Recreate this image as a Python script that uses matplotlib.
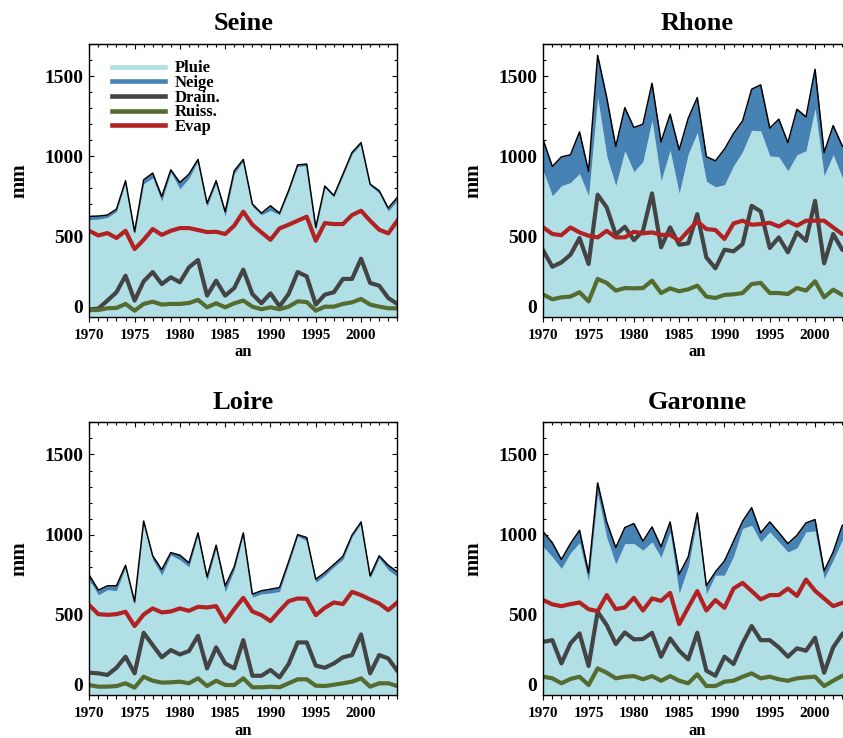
import matplotlib
matplotlib.use("Agg")
import matplotlib.pyplot as plt
import numpy as np
from matplotlib.lines import Line2D
from matplotlib.ticker import MultipleLocator

plt.rcParams['font.family'] = ['Liberation Serif', 'DejaVu Serif']
plt.rcParams['font.weight'] = 'bold'

# années 1970-2004
years = np.arange(1970, 2005)

# Seine (mm)
seine_pluie = [605, 607, 618, 655, 837, 514, 828, 865, 719, 900, 796, 863, 970, 686, 832, 624, 889, 970,
               687, 635, 661, 635, 775, 936, 941, 541, 804, 745, 878, 1013, 1075, 816, 770, 657, 723]
seine_neige = [20, 20, 15, 15, 10, 15, 25, 30, 30, 15, 40, 25, 10, 20, 15, 30, 20, 10,
               15, 10, 30, 10, 10, 10, 10, 15, 10, 10, 10, 10, 10, 10, 15, 20, 20]
seine_drain = [45, 50, 100, 152, 255, 100, 220, 278, 203, 245, 214, 307, 353, 131, 224, 131, 178, 293,
               141, 83, 145, 64, 141, 278, 251, 75, 137, 152, 235, 235, 361, 210, 193, 116, 79]
seine_ruiss = [41, 41, 52, 54, 79, 37, 79, 93, 75, 79, 79, 85, 104, 58, 83, 58, 83, 100,
               62, 46, 58, 46, 62, 95, 91, 37, 62, 62, 79, 89, 110, 75, 62, 52, 52]
seine_evap = [535, 506, 521, 490, 535, 421, 479, 546, 510, 535, 552, 552, 540, 527, 529, 515, 567, 654,
              573, 525, 479, 550, 573, 598, 623, 473, 583, 577, 577, 633, 660, 598, 542, 519, 598]

# Rhone (mm)
rhone_pluie = [909, 753, 816, 836, 892, 753, 1366, 1002, 816, 1034, 903, 967, 1225, 847, 1038, 768, 1013, 1148,
               843, 809, 822, 940, 1029, 1162, 1158, 1002, 996, 909, 1009, 1034, 1297, 878, 1009, 868, 830]
rhone_neige = [191, 183, 180, 173, 260, 152, 263, 364, 245, 269, 276, 233, 230, 243, 224, 272, 224, 218,
               155, 162, 222, 202, 191, 256, 287, 173, 235, 176, 284, 211, 245, 145, 182, 197, 190]
rhone_drain = [411, 311, 338, 386, 490, 328, 760, 681, 511, 560, 477, 535, 768, 432, 556, 448, 457, 639,
               369, 301, 417, 407, 452, 691, 656, 428, 494, 401, 525, 473, 722, 332, 515, 417, 400]
rhone_ruiss = [137, 108, 120, 125, 152, 95, 235, 210, 162, 178, 176, 178, 224, 147, 176, 158, 170, 193,
               125, 116, 135, 139, 147, 203, 210, 147, 147, 141, 178, 162, 220, 120, 168, 135, 125]
rhone_evap = [556, 515, 508, 556, 525, 504, 494, 535, 494, 494, 529, 519, 525, 510, 510, 473, 535, 594,
              546, 540, 484, 581, 598, 573, 577, 585, 562, 594, 567, 598, 598, 598, 556, 515, 510]

# Loire (mm)
loire_pluie = [717, 624, 656, 651, 794, 566, 1075, 843, 747, 873, 842, 799, 1001, 712, 914, 641, 779, 1001,
               609, 630, 635, 645, 815, 990, 962, 702, 744, 799, 845, 986, 1069, 728, 853, 779, 738]
loire_neige = [30, 30, 25, 30, 15, 15, 10, 25, 35, 15, 30, 25, 10, 25, 20, 40, 20, 10,
               20, 20, 25, 25, 15, 10, 20, 20, 20, 15, 20, 10, 10, 15, 15, 30, 30]
loire_drain = [139, 135, 125, 170, 239, 135, 388, 311, 235, 280, 253, 274, 369, 166, 297, 197, 166, 342,
               120, 120, 156, 110, 193, 328, 328, 183, 170, 197, 235, 249, 378, 135, 249, 228, 151]
loire_ruiss = [62, 52, 52, 56, 73, 46, 114, 89, 77, 79, 83, 73, 104, 56, 89, 62, 62, 104,
               48, 48, 52, 48, 73, 98, 98, 58, 56, 64, 73, 83, 104, 52, 73, 73, 56]
loire_evap = [560, 504, 500, 504, 519, 430, 502, 540, 515, 521, 540, 525, 550, 546, 554, 457, 535, 606,
              521, 498, 461, 525, 585, 602, 600, 498, 544, 577, 567, 643, 623, 596, 571, 529, 577]

# Garonne (mm)
garonne_pluie = [924, 861, 789, 886, 949, 706, 1252, 982, 816, 944, 944, 903, 955, 857, 1017, 633, 799, 1100,
                 629, 747, 747, 865, 1038, 1058, 955, 1017, 955, 892, 917, 1017, 1023, 726, 841, 965, 990]
garonne_neige = [93, 88, 56, 58, 78, 56, 70, 97, 103, 100, 125, 56, 93, 67, 62, 120, 62, 35,
                 52, 21, 89, 94, 45, 110, 56, 62, 58, 52, 79, 56, 71, 48, 51, 93, 90]
garonne_drain = [332, 342, 197, 322, 384, 181, 519, 436, 318, 390, 347, 349, 388, 239, 353, 276, 222, 388,
                 152, 120, 239, 193, 322, 430, 342, 342, 297, 239, 291, 276, 357, 139, 297, 380, 420]
garonne_ruiss = [114, 104, 73, 100, 114, 62, 166, 139, 104, 114, 118, 98, 118, 89, 118, 89, 73, 129,
                 56, 56, 83, 89, 114, 135, 104, 114, 98, 89, 104, 110, 114, 56, 89, 120, 110]
garonne_evap = [592, 565, 554, 567, 577, 535, 523, 623, 535, 546, 606, 527, 602, 587, 637, 442, 546, 648,
                527, 592, 544, 664, 699, 648, 596, 623, 623, 664, 618, 720, 650, 602, 554, 575, 580]

bassins = [
    ("Seine", seine_pluie, seine_neige, seine_drain, seine_ruiss, seine_evap),
    ("Rhone", rhone_pluie, rhone_neige, rhone_drain, rhone_ruiss, rhone_evap),
    ("Loire", loire_pluie, loire_neige, loire_drain, loire_ruiss, loire_evap),
    ("Garonne", garonne_pluie, garonne_neige, garonne_drain, garonne_ruiss, garonne_evap),
]

c_pluie = '#b0e0e6'
c_neige = '#4682b4'
c_drain = '#444444'
c_ruiss = '#556b2f'
c_evap = '#b22222'

W, H = 843, 738
fig = plt.figure(figsize=(W / 100, H / 100), dpi=100)
positions = [(89.3, 316.6), (543.3, 316.6), (89.3, 695.0), (543.3, 695.0)]
aw, ah = 308.0, 272.6

for (nom, pluie, neige, drain, ruiss, evap), (x0, yb) in zip(bassins, positions):
    ax = fig.add_axes([x0 / W, (H - yb) / H, aw / W, ah / H])
    pluie = np.array(pluie)
    total = pluie + np.array(neige)
    ax.fill_between(years, 0, pluie, color=c_pluie, lw=0)
    ax.fill_between(years, pluie, total, color=c_neige, lw=0)
    ax.plot(years, total, color='black', lw=1.1)
    ax.plot(years, drain, color=c_drain, lw=3)
    ax.plot(years, ruiss, color=c_ruiss, lw=3)
    ax.plot(years, evap, color=c_evap, lw=3)
    ax.set_axisbelow(True)

    ax.set_xlim(1970, 2004)
    ax.set_ylim(0, 1700)
    ax.set_xticks(np.arange(1970, 2001, 5))
    ax.xaxis.set_minor_locator(MultipleLocator(1))
    ax.set_yticks([0, 500, 1000, 1500])
    ax.yaxis.set_minor_locator(MultipleLocator(100))
    ax.tick_params(axis='y', which='both', direction='in', left=True, right=True, labelsize=14, pad=4.3, width=0.8)
    ax.tick_params(axis='y', which='major', length=3.6)
    ax.tick_params(axis='y', which='minor', length=2.2)
    ax.tick_params(axis='x', which='both', direction='out', labelsize=11, pad=5, width=0.8)
    ax.tick_params(axis='x', which='major', length=3.6)
    ax.tick_params(axis='x', which='minor', length=2.6)
    ax.get_yticklabels()[0].set_va('bottom')

    top = ax.secondary_xaxis('top')
    top.set_xticks(np.arange(1970, 2001, 5))
    top.xaxis.set_minor_locator(MultipleLocator(1))
    top.tick_params(which='both', direction='in', labeltop=False, width=0.8)
    top.tick_params(which='major', length=3.6)
    top.tick_params(which='minor', length=2.2)

    for sp in ax.spines.values():
        sp.set_linewidth(1.0)

    ax.set_title(nom, fontsize=19, fontweight='bold', pad=10)
    ax.set_ylabel("mm", fontsize=15, fontweight='bold')
    ax.yaxis.set_label_coords(-0.193, 0.5)
    ax.set_xlabel("an", fontsize=12, fontweight='bold', labelpad=2)

    if nom == "Seine":
        handles = [Line2D([], [], color=c_pluie, lw=3.3),
                   Line2D([], [], color=c_neige, lw=3.3),
                   Line2D([], [], color=c_drain, lw=3.3),
                   Line2D([], [], color=c_ruiss, lw=3.3),
                   Line2D([], [], color=c_evap, lw=3.3)]
        ax.legend(handles, ["Pluie", "Neige", "Drain.", "Ruiss.", "Evap"],
                  loc='upper left', bbox_to_anchor=(0.073, 0.94), frameon=False,
                  prop={'size': 12, 'weight': 'bold'}, handlelength=3.2, handletextpad=0.6,
                  labelspacing=-0.08, borderpad=0, borderaxespad=0)

fig.savefig('out.png', dpi=100)
